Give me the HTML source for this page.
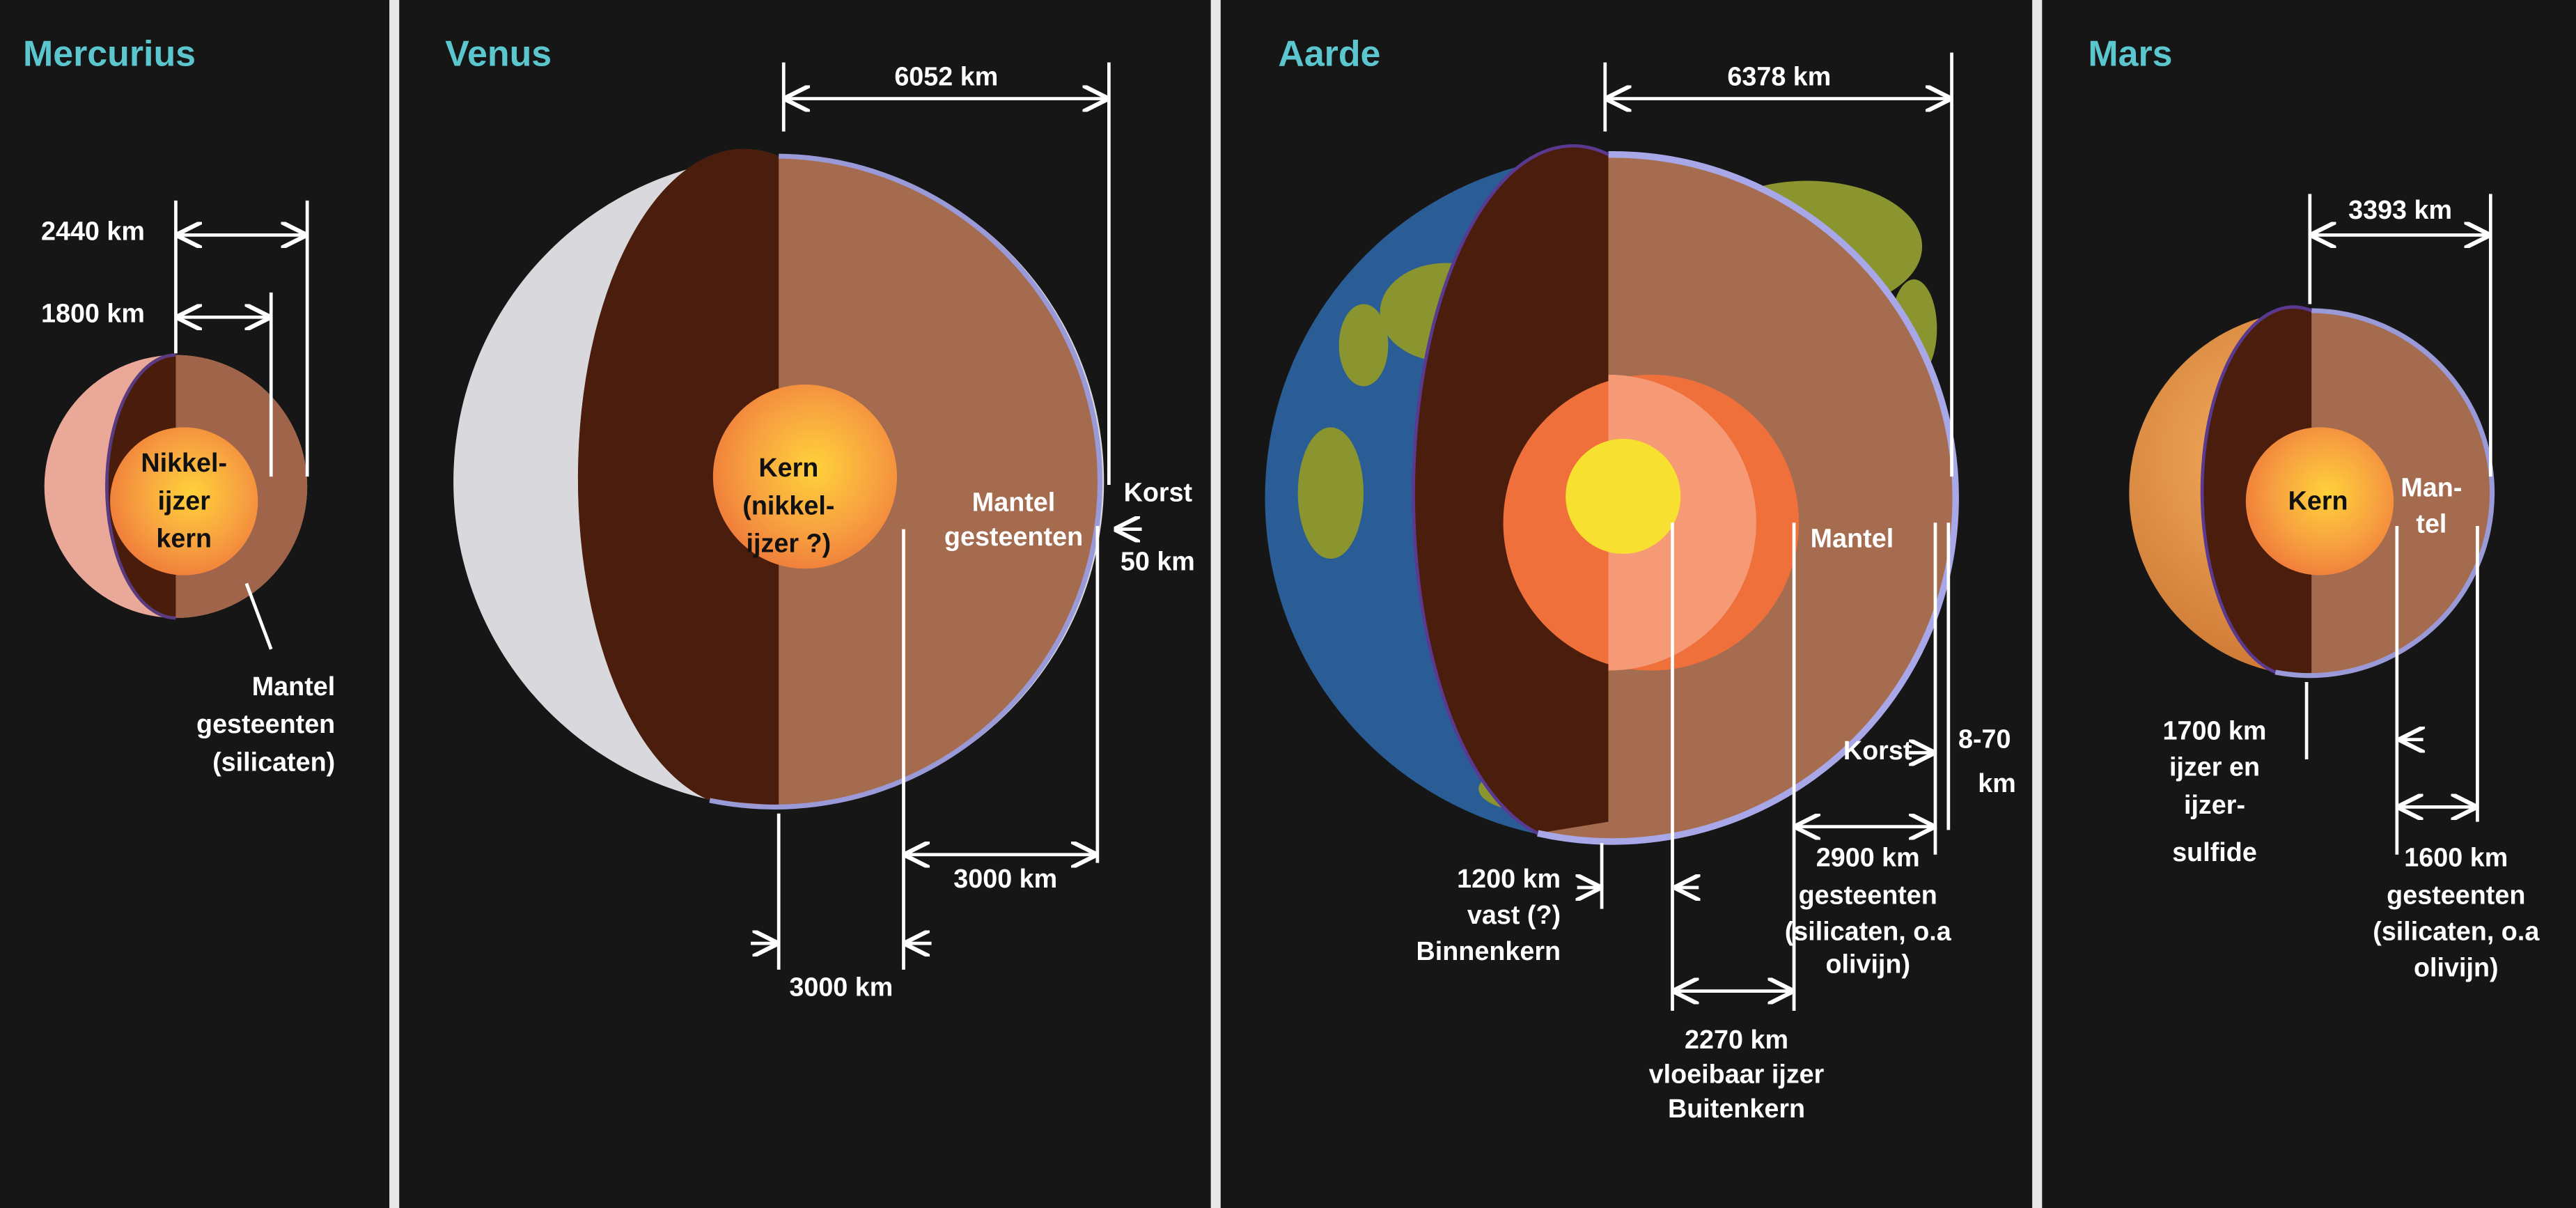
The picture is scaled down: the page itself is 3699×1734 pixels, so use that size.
<!DOCTYPE html>
<html><head><meta charset="utf-8"><style>
html,body{margin:0;padding:0;background:#141414;width:3699px;height:1734px;overflow:hidden}
svg{display:block}
text{font-family:"Liberation Sans",sans-serif;font-weight:bold}
.t{fill:#5cc6cf;font-size:22px}
.w{fill:#fff;font-size:16px}
.b{fill:#111;font-size:16px}
.l{stroke:#fff;stroke-width:2;fill:none}
</style></head><body>
<svg width="3699" height="1734" viewBox="0 0 1568 735" preserveAspectRatio="none" xmlns="http://www.w3.org/2000/svg">
<defs>
<marker id="ah" markerWidth="8" markerHeight="8" refX="7" refY="4" orient="auto-start-reverse"><path d="M0,0 L8,4 L0,8" fill="none" stroke="#fff" stroke-width="1.3"/></marker>
<radialGradient id="core" cx="0.55" cy="0.45" r="0.6"><stop offset="0" stop-color="#ffd23a"/><stop offset="0.6" stop-color="#f7a040"/><stop offset="1" stop-color="#ef7a3a"/></radialGradient>
<radialGradient id="mars" cx="0.4" cy="0.4" r="0.7"><stop offset="0" stop-color="#f5b060"/><stop offset="1" stop-color="#c8702e"/></radialGradient>
</defs>
<rect width="1568" height="735" fill="#161616"/>
<g fill="#e8e8e8">
<rect x="237" y="0" width="6" height="735"/><rect x="737" y="0" width="6" height="735"/><rect x="1237" y="0" width="6" height="735"/>
</g>
<g>
<text class="t" x="14" y="40">Mercurius</text><text class="t" x="271" y="40">Venus</text>
<text class="t" x="778" y="40">Aarde</text><text class="t" x="1271" y="40">Mars</text>
</g>

<!-- Mercury -->
<g>
<circle cx="107" cy="296" r="80" fill="#eaa898"/>
<path d="M107,216 A80,80 0 0 1 107,376 A42,80 0 0 1 107,216Z" fill="#a0644a"/>
<path d="M107,216 L107,376 A42,80 0 0 1 107,216Z" fill="#4a1c0c"/>
<circle cx="112" cy="305" r="45" fill="url(#core)"/>
<path d="M107,216 A42,80 0 0 0 107,376" fill="none" stroke="#5a3a80" stroke-width="2"/>
<text class="b" text-anchor="middle"><tspan x="112" y="287">Nikkel-</tspan><tspan x="112" y="310">ijzer</tspan><tspan x="112" y="333">kern</tspan></text>
</g>
<g>
<line class="l" x1="107" y1="122" x2="107" y2="215"/><line class="l" x1="187" y1="122" x2="187" y2="290"/><line class="l" x1="165" y1="178" x2="165" y2="290"/>
<line class="l" x1="109" y1="143" x2="185" y2="143" marker-start="url(#ah)" marker-end="url(#ah)"/>
<line class="l" x1="109" y1="193" x2="163" y2="193" marker-start="url(#ah)" marker-end="url(#ah)"/>
<text class="w" x="25" y="146">2440 km</text><text class="w" x="25" y="196">1800 km</text>
<line class="l" x1="150" y1="355" x2="165" y2="395"/>
<text class="w" text-anchor="end"><tspan x="204" y="423">Mantel</tspan><tspan x="204" y="446">gesteenten</tspan><tspan x="204" y="469">(silicaten)</tspan></text>
</g>

<!-- Venus -->
<g>
<circle cx="474" cy="293" r="198" fill="#d9d9dd"/>
<path d="M474,95 A198,198 0 1 1 432,487 A100,198 0 0 1 474,95Z" fill="#a56b4f"/>
<path d="M474,95 L474,490 L432,487 A100,198 0 0 1 474,95Z" fill="#4a1d0c"/>
<path d="M474,95 A198,198 0 1 1 432,487" fill="none" stroke="#9a9ad8" stroke-width="3"/>
<circle cx="490" cy="290" r="56" fill="url(#core)"/>
<text class="b" text-anchor="middle"><tspan x="480" y="290">Kern</tspan><tspan x="480" y="313">(nikkel-</tspan><tspan x="480" y="336">ijzer ?)</tspan></text>
</g>
<g>
<line class="l" x1="477" y1="38" x2="477" y2="80"/><line class="l" x1="675" y1="38" x2="675" y2="295"/>
<line class="l" x1="479" y1="60" x2="673" y2="60" marker-start="url(#ah)" marker-end="url(#ah)"/>
<text class="w" x="576" y="52" text-anchor="middle">6052 km</text>
<text class="w" text-anchor="middle"><tspan x="617" y="311">Mantel</tspan><tspan x="617" y="332">gesteenten</tspan></text>
<text class="w" x="684" y="305">Korst</text><text class="w" x="682" y="347">50 km</text>
<line class="l" x1="695" y1="322" x2="680" y2="322" marker-end="url(#ah)"/>
<line class="l" x1="550" y1="322" x2="550" y2="590"/><line class="l" x1="668" y1="320" x2="668" y2="525"/>
<line class="l" x1="552" y1="520" x2="666" y2="520" marker-start="url(#ah)" marker-end="url(#ah)"/>
<text class="w" x="612" y="540" text-anchor="middle">3000 km</text>
<line class="l" x1="474" y1="495" x2="474" y2="590"/>
<line class="l" x1="457" y1="574" x2="472" y2="574" marker-end="url(#ah)"/>
<line class="l" x1="567" y1="574" x2="552" y2="574" marker-end="url(#ah)"/>
<text class="w" x="512" y="606" text-anchor="middle">3000 km</text>
</g>

<!-- Earth -->
<g>
<circle cx="979" cy="303" r="209" fill="#2a5d96"/>
<g fill="#8a9530">
<ellipse cx="880" cy="190" rx="40" ry="30"/><ellipse cx="1100" cy="150" rx="70" ry="40"/>
<ellipse cx="810" cy="300" rx="20" ry="40"/><ellipse cx="940" cy="480" rx="40" ry="15"/>
<ellipse cx="830" cy="210" rx="15" ry="25"/><ellipse cx="1165" cy="200" rx="14" ry="30"/>
</g>
<path d="M979,94 A209,209 0 1 1 936,507 A95,207 0 0 1 979,94Z" fill="#a66c50"/>
<path d="M979,94 L979,500 L936,507 A95,207 0 0 1 979,94Z" fill="#4a1d0c"/>
<path d="M979,94 A209,209 0 1 1 936,507" fill="none" stroke="#a8a8e8" stroke-width="4"/>
<path d="M979,94 A95,207 0 0 0 936,507" fill="none" stroke="#5a3a90" stroke-width="2"/>
<circle cx="1005" cy="318" r="90" fill="#f0703c"/>
<path d="M979,228 A90,90 0 0 1 979,408Z" fill="#f59a74"/>
<circle cx="988" cy="302" r="35" fill="#f7e030"/>
</g>
<g>
<line class="l" x1="977" y1="38" x2="977" y2="80"/><line class="l" x1="1188" y1="32" x2="1188" y2="290"/>
<line class="l" x1="979" y1="60" x2="1186" y2="60" marker-start="url(#ah)" marker-end="url(#ah)"/>
<text class="w" x="1083" y="52" text-anchor="middle">6378 km</text>
<text class="w" x="1102" y="333">Mantel</text>
<line class="l" x1="1018" y1="318" x2="1018" y2="615"/><line class="l" x1="1092" y1="318" x2="1092" y2="615"/>
<line class="l" x1="1020" y1="603" x2="1090" y2="603" marker-start="url(#ah)" marker-end="url(#ah)"/>
<text class="w" text-anchor="middle"><tspan x="1057" y="638">2270 km</tspan><tspan x="1057" y="659">vloeibaar ijzer</tspan><tspan x="1057" y="680">Buitenkern</tspan></text>
<line class="l" x1="1178" y1="318" x2="1178" y2="520"/><line class="l" x1="1186" y1="318" x2="1186" y2="505"/>
<line class="l" x1="1094" y1="503" x2="1176" y2="503" marker-start="url(#ah)" marker-end="url(#ah)"/>
<text class="w" text-anchor="middle"><tspan x="1137" y="527">2900 km</tspan><tspan x="1137" y="550">gesteenten</tspan><tspan x="1137" y="572">(silicaten, o.a</tspan><tspan x="1137" y="592">olivijn)</tspan></text>
<text class="w" x="1122" y="462">Korst</text>
<line class="l" x1="1162" y1="458" x2="1176" y2="458" marker-end="url(#ah)"/>
<text class="w" x="1192" y="455">8-70</text><text class="w" x="1204" y="482">km</text>
<line class="l" x1="975" y1="513" x2="975" y2="553"/>
<line class="l" x1="960" y1="540" x2="973" y2="540" marker-end="url(#ah)"/>
<line class="l" x1="1034" y1="540" x2="1021" y2="540" marker-end="url(#ah)"/>
<text class="w" text-anchor="end"><tspan x="950" y="540">1200 km</tspan><tspan x="950" y="562">vast (?)</tspan><tspan x="950" y="584">Binnenkern</tspan></text>
</g>

<!-- Mars -->
<g>
<circle cx="1407" cy="300" r="111" fill="url(#mars)"/>
<path d="M1407,189 A111,111 0 1 1 1385,409 A55,111 0 0 1 1407,189Z" fill="#a56b4f"/>
<path d="M1407,189 L1407,410 L1385,409 A55,111 0 0 1 1407,189Z" fill="#4a1d0c"/>
<path d="M1407,189 A111,111 0 1 1 1385,409" fill="none" stroke="#9a9ad8" stroke-width="3"/>
<path d="M1407,189 A55,111 0 0 0 1385,409" fill="none" stroke="#5a3a90" stroke-width="2"/>
<circle cx="1412" cy="305" r="45" fill="url(#core)"/>
<text class="b" x="1411" y="310" text-anchor="middle">Kern</text>
<text class="w" text-anchor="middle"><tspan x="1480" y="302">Man-</tspan><tspan x="1480" y="324">tel</tspan></text>
</g>
<g>
<line class="l" x1="1406" y1="118" x2="1406" y2="185"/><line class="l" x1="1516" y1="118" x2="1516" y2="290"/>
<line class="l" x1="1408" y1="143" x2="1514" y2="143" marker-start="url(#ah)" marker-end="url(#ah)"/>
<text class="w" x="1461" y="133" text-anchor="middle">3393 km</text>
<line class="l" x1="1404" y1="415" x2="1404" y2="462"/>
<line class="l" x1="1459" y1="320" x2="1459" y2="520"/><line class="l" x1="1508" y1="320" x2="1508" y2="500"/>
<line class="l" x1="1461" y1="491" x2="1506" y2="491" marker-start="url(#ah)" marker-end="url(#ah)"/>
<line class="l" x1="1475" y1="450" x2="1462" y2="450" marker-end="url(#ah)"/>
<text class="w" text-anchor="middle"><tspan x="1348" y="450">1700 km</tspan><tspan x="1348" y="472">ijzer en</tspan><tspan x="1348" y="495">ijzer-</tspan><tspan x="1348" y="524">sulfide</tspan></text>
<text class="w" text-anchor="middle"><tspan x="1495" y="527">1600 km</tspan><tspan x="1495" y="550">gesteenten</tspan><tspan x="1495" y="572">(silicaten, o.a</tspan><tspan x="1495" y="594">olivijn)</tspan></text>
</g>
</svg>
</body></html>
